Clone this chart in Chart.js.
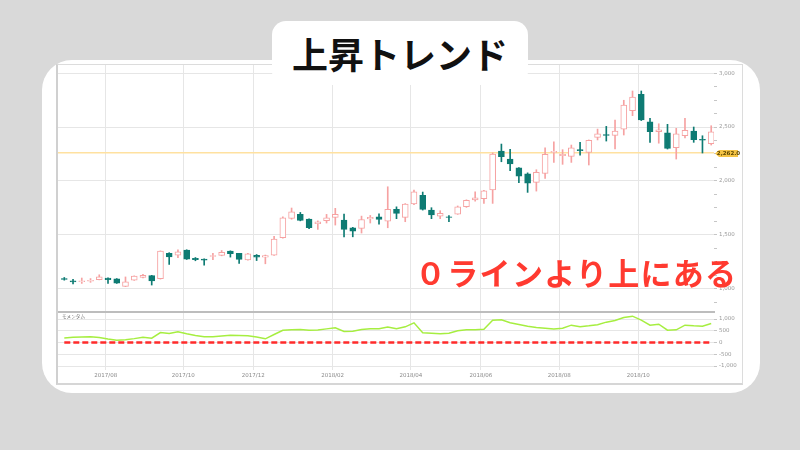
<!DOCTYPE html>
<html lang="ja">
<head>
<meta charset="utf-8">
<script src="https://cdn.jsdelivr.net/npm/chart.js@4.4.1/dist/chart.umd.min.js"></script>
<style>
  html, body { margin: 0; padding: 0; }
  body {
    width: 800px; height: 450px; overflow: hidden; position: relative;
    background: #d9d9d9;
    font-family: "Noto Sans CJK JP", "Noto Sans", sans-serif;
  }
  .card  { position: absolute; left: 42px; top: 60px; width: 718px; height: 333px; background: #fff; border-radius: 30px; }
  .frame { position: absolute; left: 56px; top: 64px; width: 687px; height: 321px; box-sizing: border-box;
           border: 1px solid #dcdcdc; border-left: 2px solid #d0d0d0; border-bottom: 2px solid #d6d6d6; }
  .sep   { position: absolute; left: 58px; top: 311px; width: 657px; height: 2px; background: #bdbdbd; }
  canvas { position: absolute; }
  #price { left: 57px; top: 65px; }
  #momo  { left: 57px; top: 312px; }
  .pill  { position: absolute; left: 272px; top: 21px; width: 256px; height: 64px; background: #fff; border-radius: 14px;
           text-align: center; box-sizing: border-box; padding-top: 14px;
           font-size: 36px; line-height: 36px; font-weight: bold; color: #111; }
  .note  { position: absolute; left: 415px; top: 256px; font-size: 31px; line-height: 31px; font-weight: bold;
           color: #ff3a30; letter-spacing: 1.3px; white-space: nowrap; }
</style>
</head>
<body>
<div class="card"></div>
<div class="frame"></div>
<canvas id="price" width="685" height="247"></canvas>
<canvas id="momo" width="685" height="73"></canvas>
<div class="sep"></div>
<div class="pill">上昇トレンド</div>
<div class="note">０ラインより上にある</div>

<script>
// weekly candles, index 0 = first week (late Jun 2017)
const opens  = [1095,1075,1067,1070,1085,1100,1093,1022,1080,1105,1122,1093,1328,1313,1359,1283,1276,1300,1310,1350,
                1328,1269,1310,1294,1313,1473,1653,1690,1646,1603,1631,1662,1637,1566,1560,1649,1668,1628,1736,1662,
                1786,1866,1730,1674,1668,1693,1761,1823,1835,1916,2277,2203,2122,2067,1987,2070,2265,2234,2228,2290,
                2265,2404,2430,2423,2481,2651,2803,2549,2456,2447,2308,2419,2463,2385,2345];
const highs  = [1105,1087,1100,1095,1130,1102,1095,1110,1120,1135,1125,1352,1335,1362,1362,1290,1278,1330,1355,1352,
                1330,1328,1318,1313,1486,1668,1749,1708,1648,1630,1690,1746,1693,1570,1674,1680,1696,1946,1760,1790,
                1915,1897,1752,1724,1680,1768,1825,1900,1912,2260,2342,2293,2125,2075,2104,2308,2363,2290,2333,2358,
                2380,2481,2506,2565,2748,2834,2834,2580,2530,2525,2488,2580,2500,2419,2512];
const lows   = [1080,1046,1050,1060,1083,1050,1050,1020,1078,1100,1035,1090,1226,1288,1272,1260,1220,1270,1306,1294,
                1236,1266,1262,1232,1310,1470,1645,1630,1557,1551,1610,1591,1482,1482,1517,1610,1600,1566,1650,1622,
                1780,1730,1650,1650,1622,1690,1755,1812,1792,1792,2178,2095,1983,1894,1906,2024,2172,2154,2172,2240,
                2148,2380,2370,2296,2426,2605,2560,2358,2350,2296,2203,2400,2358,2259,2333];
const closes = [1088,1065,1075,1078,1110,1085,1053,1065,1118,1125,1072,1350,1295,1343,1275,1270,1266,1308,1338,1325,
                1273,1325,1294,1308,1461,1659,1714,1634,1566,1621,1659,1690,1551,1535,1643,1662,1644,1736,1699,1786,
                1900,1736,1686,1699,1662,1761,1820,1844,1909,2250,2224,2157,2045,1980,2080,2247,2275,2247,2308,2280,
                2377,2438,2422,2463,2704,2778,2565,2456,2475,2302,2438,2469,2382,2378,2456];
const momentum = [190,225,232,240,215,150,100,120,165,225,183,425,383,455,370,300,243,243,275,310,
                  300,290,230,157,340,523,545,553,523,535,580,625,468,480,550,580,590,660,582,667,
                  838,413,396,375,396,497,540,540,567,950,965,838,766,695,640,610,570,610,738,670,
                  710,760,866,936,1064,1120,950,738,780,523,540,738,710,695,810];

const monthLabels = ['2017/08','2017/10','2017/12','2018/02','2018/04','2018/06','2018/08','2018/10'];
const monthWeeks  = [4.74, 13.61, 21.62, 30.7, 39.65, 47.66, 56.62, 65.65];   // week index of each month line
const momoTicks   = [-1000, -500, 0, 500, 1000];
const markPrice   = 2262.0;
const zeroLevel   = 0;

const X_MIN = -0.72, X_MAX = 74.32;
const UP = '#f6a2a2', DOWN = '#0e7b73';
const AXIS_FONT = { family: 'DejaVu Sans', size: 5.5 };

const weeks = opens.map((_, i) => i);
const isUp  = i => closes[i] >= opens[i];

const priceTicks = [];
for (let v = 875; v <= 3000; v += 125) priceTicks.push(v);

// drop the half-label padding Chart.js reserves at the axis ends
const noPad = s => { s.paddingTop = 0; s.paddingBottom = 0; s.paddingLeft = 0; s.paddingRight = 0; };

const monthAxis = (showLabels) => ({
  type: 'linear', min: X_MIN, max: X_MAX, offset: false,
  afterBuildTicks: s => { s.ticks = monthWeeks.map(v => ({ value: v })); },
  afterFit: s => { s.height = showLabels ? 15 : 0; noPad(s); },
  grid: { color: '#e6e6e6', lineWidth: 1, drawTicks: false, offset: false },
  border: { display: false },
  ticks: {
    display: showLabels, autoSkip: false, maxRotation: 0, padding: 2,
    color: '#8a8a8a', font: AXIS_FONT,
    callback: (v, i) => monthLabels[i],
  },
});

/* ── badge for the marked price ─────────────────── */
const badgePlugin = {
  id: 'markBadge',
  afterDraw: (chart) => {
    const { ctx, chartArea, scales: { y } } = chart;
    const py = Math.round(y.getPixelForValue(markPrice)) + 0.5;
    const x0 = chartArea.right + 1;
    ctx.save();
    ctx.fillStyle = '#f5c445';
    ctx.beginPath();
    ctx.moveTo(x0, py);
    ctx.lineTo(x0 + 4, py - 3.5);
    ctx.lineTo(x0 + 23, py - 3.5);
    ctx.lineTo(x0 + 23, py + 3.5);
    ctx.lineTo(x0 + 4, py + 3.5);
    ctx.closePath();
    ctx.fill();
    ctx.fillStyle = '#5c4600';
    ctx.font = 'bold 5.5px "DejaVu Sans"';
    ctx.textAlign = 'center';
    ctx.textBaseline = 'middle';
    ctx.fillText(markPrice.toLocaleString('en-US', { minimumFractionDigits: 1 }), x0 + 13.5, py);
    ctx.restore();
  },
};

new Chart(document.getElementById('price'), {
  type: 'bar',
  plugins: [badgePlugin],
  data: {
    datasets: [
      {
        label: 'body',
        data: weeks.map(i => ({ x: i, y: [opens[i], closes[i]] })),
        backgroundColor: weeks.map(i => isUp(i) ? '#ffffff' : DOWN),
        borderColor: weeks.map(i => isUp(i) ? UP : DOWN),
        borderWidth: 1, borderSkipped: false,
        barThickness: 6, grouped: false, order: 0,
      },
      {
        label: 'wick',
        data: weeks.map(i => ({ x: i, y: [lows[i], highs[i]] })),
        backgroundColor: weeks.map(i => isUp(i) ? UP : DOWN),
        borderWidth: 0,
        barThickness: 1, grouped: false, order: 1,
      },
      {
        type: 'line', label: 'mark',
        data: [{ x: X_MIN, y: markPrice }, { x: X_MAX, y: markPrice }],
        borderColor: '#ffe1a0', borderWidth: 1.5, pointRadius: 0, order: 2,
      },
    ],
  },
  options: {
    responsive: false, animation: false,
    layout: { padding: { left: 1, top: 0, right: 0, bottom: 0 } },
    plugins: { legend: { display: false }, tooltip: { enabled: false } },
    scales: {
      x: monthAxis(false),
      y: {
        position: 'right', min: 785, max: 3075,
        afterBuildTicks: s => { s.ticks = priceTicks.map(v => ({ value: v })); },
        afterFit: s => { s.width = 28; noPad(s); },
        grid: {
          color: c => (c.tick && c.tick.value % 500 === 0) ? '#e6e6e6' : 'rgba(0,0,0,0)',
          tickColor: '#c6c6c6', tickLength: 3,
        },
        border: { display: false },
        ticks: {
          padding: 2, color: '#9a9a9a', font: AXIS_FONT,
          callback: v => v % 500 === 0 ? v.toLocaleString('en-US') : '',
        },
      },
    },
  },
});

/* ── momentum pane ──────────────────────────────── */
const paneLabel = {
  id: 'paneLabel',
  afterDraw: (chart) => {
    const { ctx, chartArea } = chart;
    ctx.save();
    ctx.fillStyle = '#666';
    ctx.font = '4.6px "Noto Sans CJK JP"';
    ctx.textBaseline = 'top';
    ctx.fillText('モメンタム', chartArea.left + 4, chartArea.top + 2);
    ctx.restore();
  },
};

new Chart(document.getElementById('momo'), {
  type: 'line',
  plugins: [paneLabel],
  data: {
    datasets: [
      {
        label: 'モメンタム',
        data: weeks.map(i => ({ x: i, y: momentum[i] })),
        borderColor: '#a6ee40', borderWidth: 1.5, pointRadius: 0, tension: 0,
      },
      {
        label: 'zero',
        data: [{ x: 0, y: zeroLevel }, { x: weeks.length - 1, y: zeroLevel }],
        borderColor: '#ff2b2b', borderWidth: 2.5, borderDash: [6, 3], pointRadius: 0,
      },
    ],
  },
  options: {
    responsive: false, animation: false,
    layout: { padding: { left: 1, top: 0, right: 0, bottom: 0 } },
    plugins: { legend: { display: false }, tooltip: { enabled: false } },
    scales: {
      x: monthAxis(true),
      y: {
        position: 'right', min: -1170, max: 1298,
        afterBuildTicks: s => { s.ticks = momoTicks.map(v => ({ value: v })); },
        afterFit: s => { s.width = 28; noPad(s); },
        grid: { color: '#e6e6e6', tickColor: '#c6c6c6', tickLength: 3 },
        border: { display: false },
        ticks: {
          padding: 2, color: '#9a9a9a', font: AXIS_FONT,
          callback: v => v.toLocaleString('en-US'),
        },
      },
    },
  },
});
</script>
</body>
</html>
